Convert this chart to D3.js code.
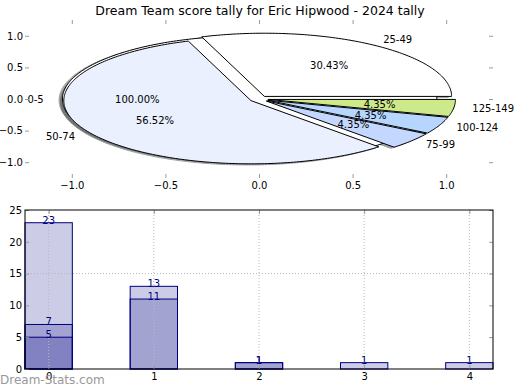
<!DOCTYPE html>
<html><head><meta charset="utf-8">
<script src="https://cdn.jsdelivr.net/npm/d3@7"></script>
<style>
body{margin:0;background:#fff}
text{font-family:"DejaVu Sans",sans-serif}
</style>
</head><body>
<svg id="c" width="520" height="390"></svg>
<script>
// ---------- data ----------
const title = "Dream Team score tally for Eric Hipwood - 2024 tally";
const baseCategories = ["0-5"];
const baseValues = [1];
const baseColors = ["#ffffff"];
const pieCategories = ["25-49", "50-74", "75-99", "100-124", "125-149"];
const pieValues = [7, 13, 1, 1, 1];
const pieColors = ["#ffffff", "#eaf0fd", "#c4d8ff", "#b6d6ff", "#cde98a"];
const pieTicks = [-1.0, -0.5, 0.0, 0.5, 1.0];
const barCategories = [0, 1, 2, 3, 4];
const barSeriesA = [23, 13, 1, 1, 1];
const barSeriesB = [7, 11, 1, 0, 0];
const barSeriesC = [5, 0, 0, 0, 0];
const barYTicks = [0, 5, 10, 15, 20, 25];
const barYGrid = [15];
const watermark = "Dream-Stats.com";

// ---------- setup ----------
const svg = d3.select("#c");
const TICK = "#999999";

svg.append("text").attr("x", 260).attr("y", 15).attr("text-anchor", "middle")
  .attr("font-size", 12.5).text(title);

// ---------- pie ----------
const xs = d3.scaleLinear().domain([-1.25, 1.25]).range([25, 493]);
const ys = d3.scaleLinear().domain([-1.25, 1.25]).range([178, 20]);
const pieG = svg.append("g");
const explode = 0.05;
const shadowOff = 0.02 * 65 / 72;
const line = d3.line().x(d => xs(d[0])).y(d => ys(d[1]));

function wedgePoints(cx, cy, a0, a1, full) {
  const pts = [];
  const n = Math.max(8, Math.ceil((a1 - a0) / (Math.PI / 180)));
  if (!full) pts.push([cx, cy]);
  for (let k = 0; k <= n; k++) {
    const a = a0 + (a1 - a0) * k / n;
    pts.push([cx + Math.cos(a), cy + Math.sin(a)]);
  }
  return pts;
}
function layout(values, cats, colors) {
  const arcs = d3.pie().sort(null).startAngle(0).endAngle(2 * Math.PI)(values);
  const tot = d3.sum(values);
  return arcs.map((a, i) => {
    const mid = (a.startAngle + a.endAngle) / 2;
    return {
      cat: cats[i], color: colors[i], a0: a.startAngle, a1: a.endAngle, mid,
      full: Math.abs(a.endAngle - a.startAngle - 2 * Math.PI) < 1e-9,
      cx: explode * Math.cos(mid), cy: explode * Math.sin(mid),
      pct: (values[i] / tot * 100).toFixed(2) + "%"
    };
  });
}
const base = layout(baseValues, baseCategories, baseColors);
const main = layout(pieValues, pieCategories, pieColors);
const all = base.concat(main);

function dark(c) { const r = d3.rgb(c); return d3.rgb(r.r * 0.3, r.g * 0.3, r.b * 0.3).toString(); }

// shadows
pieG.selectAll("path.shadow").data(all).join("path").attr("class", "shadow")
  .attr("d", d => line(wedgePoints(d.cx - shadowOff, d.cy - shadowOff, d.a0, d.a1, d.full)) + "Z")
  .attr("fill", d => dark(d.color)).attr("stroke", d => dark(d.color))
  .attr("opacity", 0.5).attr("stroke-width", 1);
// wedges
pieG.selectAll("path.wedge").data(all).join("path").attr("class", "wedge")
  .attr("d", d => line(wedgePoints(d.cx, d.cy, d.a0, d.a1, d.full)) + "Z")
  .attr("fill", d => d.color).attr("stroke", "#000").attr("stroke-width", 1)
  .attr("stroke-linejoin", "miter");
// labels
all.forEach(d => {
  const lx = d.cx + 1.1 * Math.cos(d.mid), ly = d.cy + 1.1 * Math.sin(d.mid);
  pieG.append("text").attr("x", xs(lx)).attr("y", ys(ly)).attr("dy", "0.35em")
    .attr("text-anchor", lx > 0 ? "start" : "end").attr("font-size", 10).text(d.cat);
});
all.forEach(d => {
  const lx = d.cx + 0.6 * Math.cos(d.mid), ly = d.cy + 0.6 * Math.sin(d.mid);
  pieG.append("text").attr("x", xs(lx)).attr("y", ys(ly)).attr("dy", "0.35em")
    .attr("text-anchor", "middle").attr("font-size", 10).text(d.pct);
});

// pie axes (no spines, inward gray ticks)
const fmt1 = d3.format(".1f");
function styleAxis(g) {
  g.select(".domain").remove();
  g.selectAll(".tick line").attr("stroke", TICK);
  g.selectAll(".tick text").attr("font-size", 10).attr("fill", "#000")
    .attr("font-family", "DejaVu Sans, sans-serif");
}
svg.append("g").attr("transform", `translate(${xs.range()[0]},0)`)
  .call(d3.axisLeft(ys).tickValues(pieTicks).tickFormat(fmt1).tickSize(-4).tickPadding(2)).call(styleAxis);
svg.append("g").attr("transform", `translate(${xs.range()[1]},0)`)
  .call(d3.axisRight(ys).tickValues(pieTicks).tickFormat("").tickSize(-4)).call(styleAxis);
svg.append("g").attr("transform", `translate(0,${ys.range()[0]})`)
  .call(d3.axisBottom(xs).tickValues(pieTicks).tickFormat(fmt1).tickSize(-4).tickPadding(4)).call(styleAxis);
svg.append("g").attr("transform", `translate(0,${ys.range()[1]})`)
  .call(d3.axisTop(xs).tickValues(pieTicks).tickFormat("").tickSize(-4)).call(styleAxis);

// ---------- bars ----------
const barW = 0.45;
const xb = d3.scaleLinear().domain([-barW / 2, barCategories.length - 1 + barW / 2]).range([25, 493]);
const yb = d3.scaleLinear().domain([0, 25]).range([369, 210]);
const barG = svg.append("g");
[barSeriesA, barSeriesB, barSeriesC].forEach(series => {
  barG.selectAll(null).data(series.map((v, i) => ({ v, i })).filter(d => d.v > 0)).join("rect")
    .attr("x", d => xb(barCategories[d.i] - barW / 2)).attr("width", xb(barW) - xb(0))
    .attr("y", d => yb(d.v)).attr("height", d => yb(0) - yb(d.v))
    .attr("fill", "navy").attr("fill-opacity", 0.2)
    .attr("stroke", "navy").attr("stroke-width", 1);
});
// grid on top
barG.selectAll(null).data(barCategories).join("line")
  .attr("x1", d => xb(d)).attr("x2", d => xb(d)).attr("y1", yb.range()[0]).attr("y2", yb.range()[1])
  .attr("stroke", "#b8b8b8").attr("stroke-dasharray", "1,2");
barG.selectAll(null).data(barYGrid).join("line")
  .attr("x1", xb.range()[0]).attr("x2", xb.range()[1]).attr("y1", d => yb(d)).attr("y2", d => yb(d))
  .attr("stroke", "#b8b8b8").attr("stroke-dasharray", "1,2");
// value labels
[barSeriesA, barSeriesB, barSeriesC].forEach(series => {
  barG.selectAll(null).data(series.map((v, i) => ({ v, i })).filter(d => d.v > 0)).join("text")
    .attr("x", d => xb(barCategories[d.i])).attr("y", d => yb(d.v) + 1)
    .attr("text-anchor", "middle").attr("font-size", 10).attr("fill", "navy").text(d => d.v);
});
// axes
svg.append("g").attr("transform", `translate(${xb.range()[0]},0)`)
  .call(d3.axisLeft(yb).tickValues(barYTicks).tickFormat(d3.format("d")).tickSize(-4).tickPadding(3)).call(styleAxis);
svg.append("g").attr("transform", `translate(${xb.range()[1]},0)`)
  .call(d3.axisRight(yb).tickValues(barYTicks).tickFormat("").tickSize(-4)).call(styleAxis);
svg.append("g").attr("transform", `translate(0,${yb.range()[0]})`)
  .call(d3.axisBottom(xb).tickValues(barCategories).tickFormat(d3.format("d")).tickSize(-4).tickPadding(4)).call(styleAxis);
svg.append("g").attr("transform", `translate(0,${yb.range()[1]})`)
  .call(d3.axisTop(xb).tickValues(barCategories).tickFormat("").tickSize(-4)).call(styleAxis);
svg.append("rect").attr("x", xb.range()[0]).attr("y", yb.range()[1])
  .attr("width", xb.range()[1] - xb.range()[0]).attr("height", yb.range()[0] - yb.range()[1])
  .attr("fill", "none").attr("stroke", "#000").attr("stroke-width", 1);

// watermark
svg.append("text").attr("x", 0).attr("y", 384).attr("font-size", 12)
  .attr("fill", "#999").text(watermark);
</script>
</body></html>
